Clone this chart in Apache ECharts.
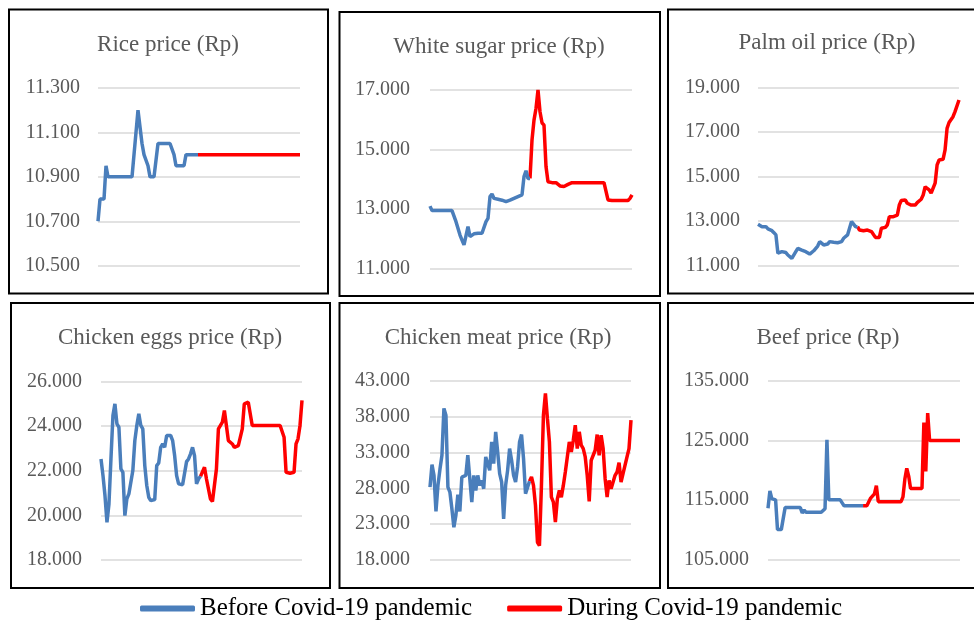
<!DOCTYPE html>
<html>
<head>
<meta charset="utf-8">
<script src="https://cdn.jsdelivr.net/npm/echarts@6.0.0/dist/echarts.min.js"></script>
<style>html,body{margin:0;padding:0;background:#fff}#c{width:974px;height:622px}</style>
</head>
<body>
<div id="c"></div>
<script>
// ---------------- DATA ----------------
const seriesNames = ['Before Covid-19 pandemic', 'During Covid-19 pandemic'];
const panelTitles = ['Rice price (Rp)', 'White sugar price (Rp)', 'Palm oil price (Rp)',
                     'Chicken eggs price (Rp)', 'Chicken meat price (Rp)', 'Beef price (Rp)'];

const riceTicks = [10500, 10700, 10900, 11100, 11300];
const sugarTicks = [11000, 13000, 15000, 17000];
const palmTicks = [11000, 13000, 15000, 17000, 19000];
const eggsTicks = [18000, 20000, 22000, 24000, 26000];
const meatTicks = [18000, 23000, 28000, 33000, 38000, 43000];
const beefTicks = [105000, 115000, 125000, 135000];

const riceBefore = [10700,10800,10800,10800,10950,10900,
  10900,10900,10900,10900,10900,10900,10900,10900,10900,10900,10900,10900,
  11000,11100,11200,11200,11050,11000,11000,10950,10900,10900,10900,10900,
  11050,11050,11050,11050,11050,11050,11050,11050,
  11000,10950,10950,10950,10950,10950,
  11000,11000,11000,11000,11000,11000,11000];
const riceDuring = [11000,11000,11000,11000,11000,11000,11000,11000,11000,11000,
  11000,11000,11000,11000,11000,11000,11000,11000,11000,11000,
  11000,11000,11000,11000,11000,11000,11000,11000,11000,11000,
  11000,11000,11000,11000,11000,11000,11000,11000,11000,11000,
  11000,11000,11000,11000,11000,11000,11000,11000,11000,11000,
  11000,11000];

const sugarBefore = [13100,12950,12950,12950,12950,12950,12950,12950,12950,12950,12950,12950,12950,
  12580,12520,12130,11960,11800,11740,12410,12080,12080,12170,12190,12190,12190,12190,12130,
  12580,12690,13420,13510,13360,13330,13330,13330,13300,13280,13250,13200,13300,13360,13360,
  13400,13420,13420,13480,14090,14290,14030,14030];
const sugarDuring = [14030,15320,15990,16380,17000,16270,15900,15820,14430,13920,13890,
  13890,13890,13890,13890,13780,13760,13760,13780,13830,13830,13890,
  13890,13890,13890,13890,13890,13890,13890,13890,13890,13890,13890,13890,13890,13890,13890,13890,13890,
  13310,13290,13290,13290,13290,13290,13290,13290,13290,13290,13290,13360,13480];

const palmBefore = [12860,12780,12750,12680,12750,12650,12600,12570,12480,12380,
  11560,11630,11630,11630,11590,11480,11400,11330,11400,11630,
  11780,11780,11700,11670,11630,11590,11520,11590,11670,11630,
  11880,12080,12000,11930,11930,11970,12080,12080,12050,12030,
  12030,12030,12080,12230,12300,12380,12680,12980,12930,12750,12750];
const palmDuring = [12750,12600,12570,12570,12570,12600,12570,12530,12450,12270,
  12230,12270,12680,12710,12720,12830,13200,13200,13200,13200,
  13270,13720,13920,13980,13950,13800,13720,13720,13720,13720,
  13830,13870,13980,14170,14540,14520,14400,14250,14170,14700,
  15520,15740,15740,15770,16190,17160,17420,17500,17680,17910,
  17950,18430];

const eggsBefore = [22530,21780,20890,19690,20510,22530,24470,25000,24100,23950,
  22080,21930,19990,20740,20960,21040,22010,23350,24030,24550,
  24030,23880,22230,21340,20810,20660,20660,20710,22230,22350,
  23050,23200,23050,23580,23610,23580,23350,22680,21780,21410,
  21370,21370,21410,22410,22530,22760,23050,22680,21410,21630,21750];
const eggsDuring = [21750,21780,22160,21630,21630,20740,20620,20620,22080,23880,
  23950,24180,24700,24030,23350,23280,23200,23050,23050,23130,
  23200,23880,25000,25070,25070,25070,24030,24030,24030,24030,
  24030,24030,24030,24030,24030,24030,24030,24030,24030,24030,
  24030,24030,23500,21930,21890,21890,21860,21930,23200,23430,
  24030,25150];

const meatBefore = [28190,31320,29820,24780,28420,30660,32630,39170,38230,28190,
  27490,25150,22580,24220,27110,24780,29590,29730,29820,32630,
  29350,26080,29820,27720,29820,28420,29120,27950,32390,32630,
  30520,34500,31460,35900,33090,30060,28890,23750,28420,30520,
  33560,31920,29820,28890,30990,34500,35520,32160,27250,27390,29000];
const meatDuring = [29000,29590,28420,25620,20480,20010,28420,38230,41270,37770,
  34500,26780,26080,23280,26550,27720,26780,28420,30290,32390,
  34500,33090,34730,36830,33560,35900,34030,33560,32390,29820,
  26180,31920,31920,33330,35520,32630,35430,33560,29350,26780,
  29120,27950,27720,29820,30290,31600,28890,30060,30290,32390,
  33560,37530];

const beefBefore = [113600,116500,115200,115000,115000,110000,110000,110000,110000,113700,
  113700,113700,113700,113700,113700,113700,113700,113700,112800,113300,
  112900,112900,112900,112900,112900,112900,112900,112900,112900,113200,
  113500,125100,115000,115000,115000,115000,115000,115000,115000,114500,
  114000,114000,114000,114000,114000,114000,114000,114000,114000,114000,114000];
const beefDuring = [114000,114000,114000,114000,115300,115600,116000,117400,114700,114700,
  114700,114700,114700,114700,114700,114700,114700,114700,114700,114700,
  114700,115500,118500,120300,119000,116900,116900,116900,116900,116900,
  116900,116900,128000,119800,129600,125000,125000,125000,125000,125000,
  125000,125000,125000,125000,125000,125000,125000,125000,125000,125000,
  125000,125000];

// ---------------- LAYOUT ----------------
const panels = [
  {before: riceBefore, during: riceDuring, ticks: riceTicks},
  {before: sugarBefore, during: sugarDuring, ticks: sugarTicks},
  {before: palmBefore, during: palmDuring, ticks: palmTicks},
  {before: eggsBefore, during: eggsDuring, ticks: eggsTicks},
  {before: meatBefore, during: meatDuring, ticks: meatTicks},
  {before: beefBefore, during: beefDuring, ticks: beefTicks}
];
const gridPos = [
  {left: 98, top: 88, width: 202, height: 177.7, margin: 18},
  {left: 430, top: 90, width: 202, height: 178.7, margin: 20},
  {left: 758, top: 87.3, width: 201, height: 178.4, margin: 18},
  {left: 101, top: 381.5, width: 201, height: 178.5, margin: 19},
  {left: 430, top: 381, width: 201, height: 179, margin: 20},
  {left: 768, top: 381, width: 192, height: 178.3, margin: 19}
];
const boxPos = [
  [9, 9.5, 319, 284], [339.5, 12, 320.5, 284], [668, 9.5, 320, 284],
  [11, 303, 319, 285], [339.5, 303, 320.5, 285], [668, 303, 320, 285]
];
const titlePos = [[168, 45], [499, 47], [827, 43], [170, 338], [498, 338], [828, 338]];

const BLUE = '#4a7ebb', RED = '#ff0000', GRAY = '#595959';
const FONT = '"Liberation Serif", "Times New Roman", serif';

function gcd(a, b) { return b ? gcd(b, a % b) : a; }
function fmt(v) { return String(v).replace(/\B(?=(\d{3})+(?!\d))/g, '.'); }

const grid = [], xAxis = [], yAxis = [], series = [], graphic = [];
panels.forEach((p, k) => {
  const g = gridPos[k];
  grid.push({left: g.left, top: g.top, width: g.width, height: g.height, containLabel: false});
  const total = p.before.length + p.during.length - 1;
  const cats = [];
  for (let i = 0; i < total; i++) cats.push(String(i));
  xAxis.push({type: 'category', gridIndex: k, data: cats, boundaryGap: false, show: false});
  const mn = p.ticks[0], mx = p.ticks[p.ticks.length - 1];
  const step = p.ticks[1] - p.ticks[0];
  const iv = gcd(mn, step);
  const ratio = step / iv;
  const colors = [];
  for (let j = 0; j < ratio; j++) colors.push(j === 0 ? '#d9d9d9' : 'rgba(0,0,0,0)');
  yAxis.push({
    type: 'value', gridIndex: k, min: mn, max: mx, interval: iv,
    axisLine: {show: false}, axisTick: {show: false},
    splitLine: {show: true, lineStyle: {color: colors, width: 1.5}},
    axisLabel: {
      margin: g.margin, color: GRAY, fontFamily: FONT, fontSize: 20,
      formatter: v => ((v - mn) % step === 0 ? fmt(v) : '')
    }
  });
  const b = p.before.slice(), d = [];
  for (let i = p.before.length; i < total; i++) b.push(null);
  for (let i = 0; i < p.before.length - 1; i++) d.push(null);
  p.during.forEach(v => d.push(v));
  series.push({name: seriesNames[0], type: 'line', xAxisIndex: k, yAxisIndex: k, data: b,
    symbol: 'none', itemStyle: {color: BLUE}, lineStyle: {color: BLUE, width: 3.5}, z: 3});
  series.push({name: seriesNames[1], type: 'line', xAxisIndex: k, yAxisIndex: k, data: d,
    symbol: 'none', itemStyle: {color: RED}, lineStyle: {color: RED, width: 3.5}, z: 2});
  const bx = boxPos[k];
  graphic.push({type: 'rect', shape: {x: bx[0], y: bx[1], width: bx[2], height: bx[3]},
    style: {fill: 'none', stroke: '#000', lineWidth: 2}, silent: true});
  graphic.push({type: 'text', x: titlePos[k][0], y: titlePos[k][1],
    style: {text: panelTitles[k], fill: GRAY, font: '23px ' + FONT, textAlign: 'center', textVerticalAlign: 'middle'}});
});

const chart = echarts.init(document.getElementById('c'), null, {renderer: 'canvas'});
chart.setOption({
  animation: false,
  backgroundColor: '#fff',
  grid, xAxis, yAxis, series, graphic,
  legend: {
    data: seriesNames, left: 140, top: 596, icon: 'roundRect',
    itemWidth: 55, itemHeight: 6, itemGap: 35, padding: 0,
    textStyle: {fontFamily: FONT, fontSize: 25, color: '#000'}
  }
});
</script>
</body>
</html>
